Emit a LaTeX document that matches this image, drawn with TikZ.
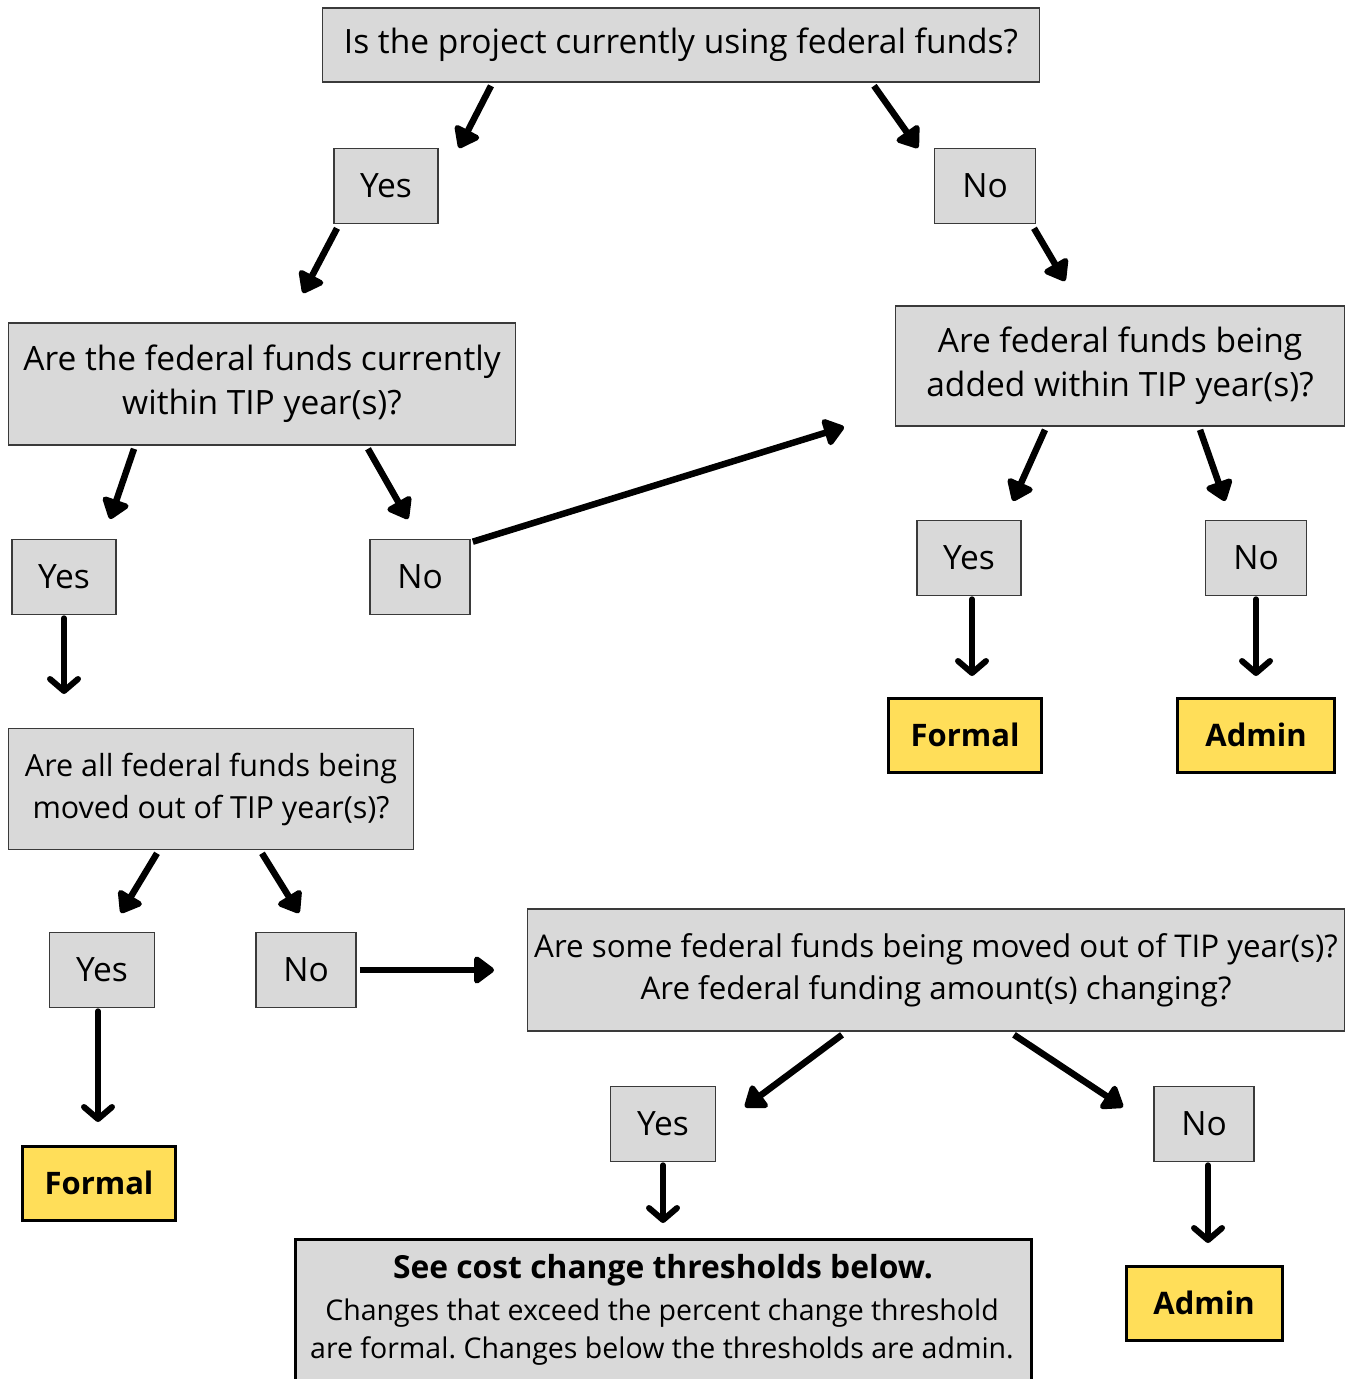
\documentclass[tikz,border=0pt]{standalone}
\usepackage{fontspec}
\setmainfont{Open Sans}
\usetikzlibrary{arrows.meta}
\definecolor{boxgray}{HTML}{D9D9D9}
\definecolor{boxline}{HTML}{3A3A3A}
\definecolor{resyellow}{HTML}{FFDE59}
\frenchspacing
\begin{document}
\begin{tikzpicture}[x=1pt,y=-1pt,
  qbox/.style={draw=boxline,fill=boxgray,line width=1.6pt,inner sep=0pt,align=center,
    font=\fontsize{33.5}{44}\selectfont},
  ansbox/.style={qbox,minimum height=75pt},
  resbox/.style={draw=black,fill=resyellow,line width=3pt,inner sep=0pt,
    minimum width=153pt,minimum height=74pt,font=\fontsize{31}{38}\selectfont\bfseries},
  arr/.style={line width=6pt,line cap=round,-{Straight Barb[length=12pt,width=28pt,line width=6pt,round]}},
  tarr/.style={line width=6.5pt,-{Triangle[length=22pt,width=31pt,round]}}]
\useasboundingbox (0,0) rectangle (1348,1379);
% questions
\node[qbox,minimum width=717pt,minimum height=74pt] (q1) at (681,45) {Is the project currently using federal funds?};
\node[qbox,minimum width=507pt,minimum height=122pt] (q2) at (262,384) {Are the federal funds currently\\within TIP year(s)?};
\node[qbox,minimum width=449pt,minimum height=120pt] (q3) at (1120,366) {Are federal funds being\\added within TIP year(s)?};
\node[qbox,minimum width=405pt,minimum height=121pt,font=\fontsize{30.5}{42}\selectfont] (q4) at (211,789) {Are all federal funds being\\moved out of TIP year(s)?};
\node[qbox,minimum width=817pt,minimum height=122pt,font=\fontsize{31.3}{42}\selectfont] (q5) at (936,970) {Are some federal funds being moved out of TIP year(s)?\\Are federal funding amount(s) changing?};
% answers
\node[ansbox,minimum width=104pt] (yes1) at (386,186) {Yes};
\node[ansbox,minimum width=101pt] (no1) at (985,186) {No};
\node[ansbox,minimum width=104pt] (yes2) at (64,577) {Yes};
\node[ansbox,minimum width=100pt] (no2) at (420,577) {No};
\node[ansbox,minimum width=104pt] (yes3) at (969,558) {Yes};
\node[ansbox,minimum width=101pt] (no3) at (1256,558) {No};
\node[ansbox,minimum width=105pt] (yes4) at (102,970) {Yes};
\node[ansbox,minimum width=100pt] (no4) at (306,970) {No};
\node[ansbox,minimum width=105pt] (yes5) at (663,1124) {Yes};
\node[ansbox,minimum width=100pt] (no5) at (1204,1124) {No};
% results
\node[resbox] (formal1) at (965,735) {Formal};
\node[resbox,minimum width=157pt] (admin1) at (1256,735) {Admin};
\node[resbox] (formal2) at (99,1183) {Formal};
\node[resbox,minimum width=156pt] (admin2) at (1204,1303) {Admin};
\node[draw=black,fill=boxgray,line width=3pt,minimum width=736pt,minimum height=150pt,inner sep=0pt,
  anchor=north,align=center] (cost) at (663,1238) {};
\node[font=\fontsize{31.8}{40}\selectfont\bfseries,inner sep=0pt] (costtitle) at (663,1270) {See cost change thresholds below.};
\node[font=\fontsize{28.5}{38}\selectfont,inner sep=0pt,align=center] (costtext) at (662,1332)
  {Changes that exceed the percent change threshold\\are formal. Changes below the thresholds are admin.};
% free ends
\coordinate (e1) at (459,148);
\coordinate (e2) at (918,148);
\coordinate (e3) at (303,293);
\coordinate (e4) at (1065,281);
\coordinate (e5) at (110,519);
\coordinate (e6) at (408,519);
\coordinate (e7) at (844,427);
\coordinate (e8) at (1013,501);
\coordinate (e9) at (1225,501);
\coordinate (e10) at (64,694);
\coordinate (e11) at (972,676);
\coordinate (e12) at (1256,676);
\coordinate (e13) at (121,913);
\coordinate (e14) at (299,913);
\coordinate (e15) at (494,970);
\coordinate (e16) at (98,1122);
\coordinate (e17) at (745,1107);
\coordinate (e18) at (1123,1107);
\coordinate (e19) at (663,1223);
\coordinate (e20) at (1208,1243);
% arrows
\draw[tarr] ([xshift=-190pt,yshift=-3pt]q1.south) -- (e1);
\draw[tarr] ([xshift=193pt,yshift=-3pt]q1.south) -- (e2);
\draw[tarr] ([xshift=-49pt,yshift=-4pt]yes1.south) -- (e3);
\draw[tarr] ([xshift=49pt,yshift=-4pt]no1.south) -- (e4);
\draw[tarr] ([xshift=-128pt,yshift=-3pt]q2.south) -- (e5);
\draw[tarr] ([xshift=106pt,yshift=-3pt]q2.south) -- (e6);
\draw[tarr] ([xshift=2pt,yshift=-3pt]no2.north east) -- (e7);
\draw[tarr] ([xshift=-75pt,yshift=-3pt]q3.south) -- (e8);
\draw[tarr] ([xshift=80pt,yshift=-3pt]q3.south) -- (e9);
\draw[arr] ([yshift=-3pt]yes2.south) -- (e10);
\draw[arr] ([xshift=3pt,yshift=-3pt]yes3.south) -- (e11);
\draw[arr] ([yshift=-3pt]no3.south) -- (e12);
\draw[tarr] ([xshift=-54pt,yshift=-3pt]q4.south) -- (e13);
\draw[tarr] ([xshift=51pt,yshift=-3pt]q4.south) -- (e14);
\draw[tarr] ([xshift=3pt]no4.east) -- (e15);
\draw[arr] ([xshift=-4pt,yshift=-3pt]yes4.south) -- (e16);
\draw[tarr] ([xshift=-94pt,yshift=-3pt]q5.south) -- (e17);
\draw[tarr] ([xshift=78pt,yshift=-3pt]q5.south) -- (e18);
\draw[arr] ([yshift=-3pt]yes5.south) -- (e19);
\draw[arr] ([xshift=4pt,yshift=-3pt]no5.south) -- (e20);
\end{tikzpicture}
\end{document}
